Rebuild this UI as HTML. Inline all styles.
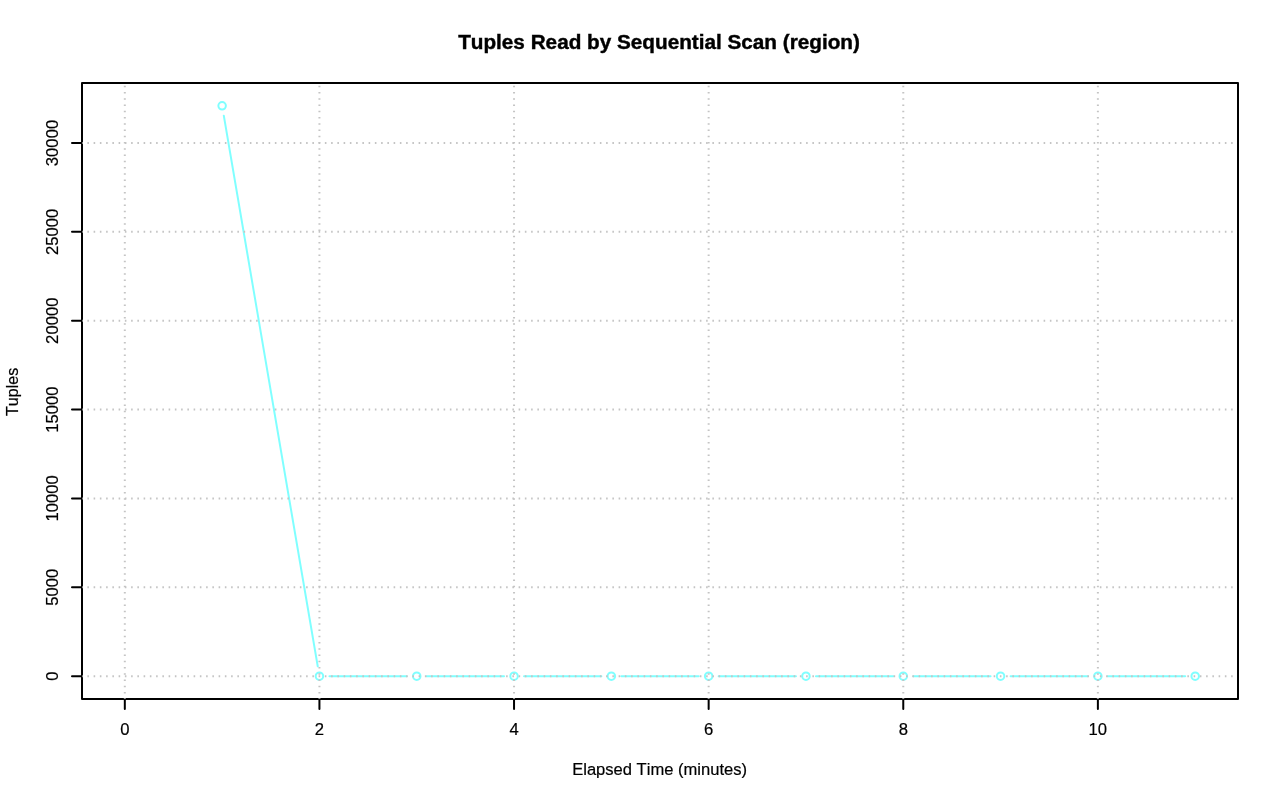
<!DOCTYPE html>
<html><head><meta charset="utf-8"><title>Tuples Read by Sequential Scan (region)</title>
<style>svg text{font-kerning:none;font-variant-ligatures:none}html,body{margin:0;padding:0;background:#fff;width:1280px;height:801px;overflow:hidden}</style>
</head><body>
<svg width="1280" height="801" viewBox="0 0 1280 801" style="display:block;will-change:transform">
<defs><clipPath id="pr"><rect x="82" y="83" width="1154.9" height="616"/></clipPath></defs>
<rect x="0" y="0" width="1280" height="801" fill="#fff"/>
<rect x="82.0" y="83.0" width="1156.0" height="616.0" stroke="#000" stroke-width="2.0" fill="none" stroke-linejoin="round"/>
<path d="M124.815 699.0L1097.879 699.0M124.815 699.0L124.815 709.0M319.428 699.0L319.428 709.0M514.040 699.0L514.040 709.0M708.653 699.0L708.653 709.0M903.266 699.0L903.266 709.0M1097.879 699.0L1097.879 709.0M82.0 676.185L82.0 142.996M82.0 676.185L72.0 676.185M82.0 587.320L72.0 587.320M82.0 498.455L72.0 498.455M82.0 409.591L72.0 409.591M82.0 320.726L72.0 320.726M82.0 231.861L72.0 231.861M82.0 142.996L72.0 142.996" stroke="#000" stroke-width="2.0" fill="none" stroke-linecap="round"/>
<path d="M223.803 115.672L317.746 666.328M329.428 676.185L406.734 676.185M426.734 676.185L504.040 676.185M524.040 676.185L601.347 676.185M621.347 676.185L698.653 676.185M718.653 676.185L795.960 676.185M815.960 676.185L893.266 676.185M913.266 676.185L990.572 676.185M1010.572 676.185L1087.879 676.185M1107.879 676.185L1185.185 676.185" stroke="#80ffff" stroke-width="2.0" fill="none" stroke-linecap="round"/>
<circle cx="222.121" cy="105.815" r="3.75" stroke="#80ffff" stroke-width="2.0" fill="none"/>
<circle cx="319.428" cy="676.185" r="3.75" stroke="#80ffff" stroke-width="2.0" fill="none"/>
<circle cx="416.734" cy="676.185" r="3.75" stroke="#80ffff" stroke-width="2.0" fill="none"/>
<circle cx="514.040" cy="676.185" r="3.75" stroke="#80ffff" stroke-width="2.0" fill="none"/>
<circle cx="611.347" cy="676.185" r="3.75" stroke="#80ffff" stroke-width="2.0" fill="none"/>
<circle cx="708.653" cy="676.185" r="3.75" stroke="#80ffff" stroke-width="2.0" fill="none"/>
<circle cx="805.960" cy="676.185" r="3.75" stroke="#80ffff" stroke-width="2.0" fill="none"/>
<circle cx="903.266" cy="676.185" r="3.75" stroke="#80ffff" stroke-width="2.0" fill="none"/>
<circle cx="1000.572" cy="676.185" r="3.75" stroke="#80ffff" stroke-width="2.0" fill="none"/>
<circle cx="1097.879" cy="676.185" r="3.75" stroke="#80ffff" stroke-width="2.0" fill="none"/>
<circle cx="1195.185" cy="676.185" r="3.75" stroke="#80ffff" stroke-width="2.0" fill="none"/>
<g font-family='"Liberation Sans", sans-serif' font-size="16.6667" fill="#000" stroke="#000" stroke-width="0.2" text-anchor="middle">
<text x="124.815" y="735">0</text>
<text x="319.428" y="735">2</text>
<text x="514.040" y="735">4</text>
<text x="708.653" y="735">6</text>
<text x="903.266" y="735">8</text>
<text x="1097.879" y="735">10</text>
<text transform="translate(58 676.185) rotate(-90)" x="0" y="0">0</text>
<text transform="translate(58 587.320) rotate(-90)" x="0" y="0">5000</text>
<text transform="translate(58 498.455) rotate(-90)" x="0" y="0">10000</text>
<text transform="translate(58 409.591) rotate(-90)" x="0" y="0">15000</text>
<text transform="translate(58 320.726) rotate(-90)" x="0" y="0">20000</text>
<text transform="translate(58 231.861) rotate(-90)" x="0" y="0">25000</text>
<text transform="translate(58 142.996) rotate(-90)" x="0" y="0">30000</text>
<text transform="translate(659.6 775) scale(0.9945 1)" x="0" y="0">Elapsed Time (minutes)</text>
<text transform="translate(18 391.9) rotate(-90) scale(0.965 1)" x="0" y="0">Tuples</text>
</g>
<text transform="translate(659.0 49) scale(1.036 1)" x="0" y="0" font-family='"Liberation Sans", sans-serif' font-size="20" font-weight="bold" stroke="#000" stroke-width="0.4" text-anchor="middle">Tuples Read by Sequential Scan (region)</text>
<g clip-path="url(#pr)" stroke="#c4c4c4" stroke-width="2.0" fill="none" stroke-linecap="butt">
<path d="M124.815 0L124.815 801M319.428 0L319.428 801M514.040 0L514.040 801M708.653 0L708.653 801M903.266 0L903.266 801M1097.879 0L1097.879 801" stroke-dasharray="1.5625 4.6875" stroke-dashoffset="-4.379"/>
<path d="M0 676.185L1280 676.185M0 587.320L1280 587.320M0 498.455L1280 498.455M0 409.591L1280 409.591M0 320.726L1280 320.726M0 231.861L1280 231.861M0 142.996L1280 142.996" stroke-dasharray="1.5625 4.6875" stroke-dashoffset="0.131"/>
</g>
</svg>
</body></html>
